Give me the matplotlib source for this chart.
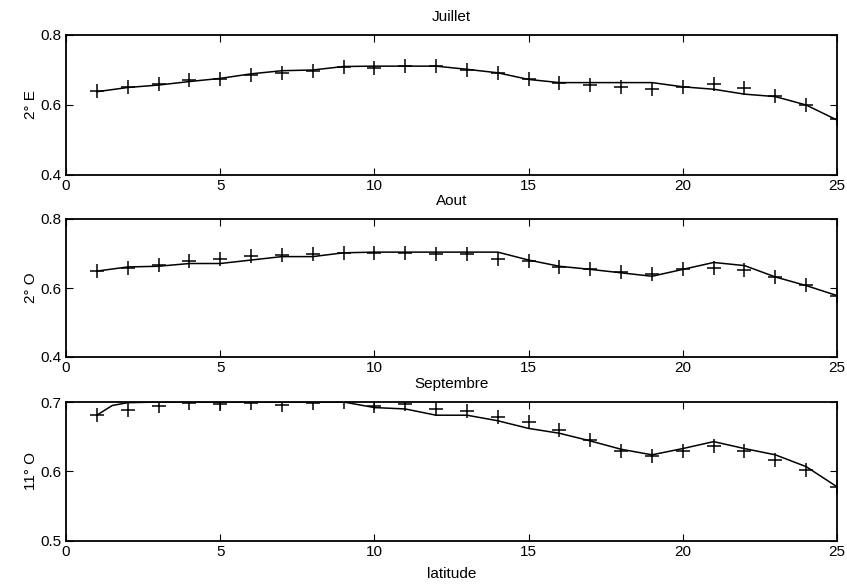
import matplotlib
matplotlib.use("Agg")
import matplotlib.pyplot as plt

plt.rcParams['font.family'] = ['Liberation Sans Narrow', 'Liberation Sans', 'DejaVu Sans']
plt.rcParams['font.size'] = 11

lat = list(range(1, 26))

# Juillet, 2° E
juil_obs = [0.641, 0.652, 0.660, 0.671, 0.674, 0.686, 0.690, 0.698, 0.708, 0.705,
            0.711, 0.710, 0.700, 0.690, 0.673, 0.662, 0.657, 0.652, 0.645, 0.650,
            0.660, 0.648, 0.627, 0.601, 0.559]
juil_fit = [0.638, 0.650, 0.657, 0.667, 0.676, 0.689, 0.698, 0.700, 0.710, 0.711,
            0.711, 0.711, 0.702, 0.692, 0.673, 0.664, 0.664, 0.664, 0.664, 0.652,
            0.645, 0.631, 0.624, 0.600, 0.557]

# Aout, 2° O
aout_obs = [0.649, 0.659, 0.666, 0.678, 0.685, 0.693, 0.695, 0.698, 0.702, 0.702,
            0.702, 0.700, 0.698, 0.685, 0.678, 0.661, 0.654, 0.646, 0.642, 0.654,
            0.659, 0.652, 0.632, 0.610, 0.578]
aout_fit = [0.649, 0.661, 0.663, 0.671, 0.671, 0.681, 0.691, 0.691, 0.702, 0.704,
            0.704, 0.704, 0.704, 0.704, 0.681, 0.663, 0.654, 0.644, 0.634, 0.654,
            0.674, 0.665, 0.632, 0.607, 0.578]

# Septembre, 11° O
sept_obs = [0.681, 0.688, 0.694, 0.699, 0.697, 0.698, 0.695, 0.699, 0.700, 0.694,
            0.697, 0.690, 0.687, 0.679, 0.671, 0.659, 0.646, 0.630, 0.622, 0.630,
            0.636, 0.630, 0.617, 0.602, 0.578]
sept_fit_x = [1, 1.5, 2, 3, 4, 5, 6, 7, 8, 9, 10, 11, 12, 13, 14, 15, 16, 17, 18,
              19, 20, 21, 22, 23, 24, 25]
sept_fit = [0.681, 0.695, 0.699, 0.700, 0.700, 0.700, 0.700, 0.700, 0.700, 0.700,
            0.692, 0.690, 0.681, 0.681, 0.673, 0.662, 0.655, 0.644, 0.632, 0.624,
            0.633, 0.643, 0.633, 0.624, 0.607, 0.578]

panels = [
    ("Juillet", "2° E", lat, juil_fit, juil_obs, (0.4, 0.8), [0.4, 0.6, 0.8]),
    ("Aout", "2° O", lat, aout_fit, aout_obs, (0.4, 0.8), [0.4, 0.6, 0.8]),
    ("Septembre", "11° O", sept_fit_x, sept_fit, sept_obs, (0.5, 0.7), [0.5, 0.6, 0.7]),
]

fig = plt.figure(figsize=(8.47, 5.84), dpi=100)
# axes boxes measured in pixels: (top, bottom)
boxes = [(35, 175), (219, 357), (402, 541)]

for (title, ylab, fx, fy, obs, ylim, yticks), (top, bot) in zip(panels, boxes):
    ax = fig.add_axes([66 / 847, 1 - bot / 584, 771 / 847, (bot - top) / 584])
    ax.plot(fx, fy, color="black", lw=1.1)
    ax.plot(lat, obs, "+", color="black", ms=10, mew=1.1)
    ax.set_xlim(0, 25)
    ax.set_ylim(*ylim)
    ax.set_xticks([0, 5, 10, 15, 20, 25])
    ax.set_yticks(yticks)
    ax.set_yticklabels([f"{t:.1f}" for t in yticks])
    ax.tick_params(direction="in", top=True, right=True, length=5, width=0.8, pad=3)
    ax.set_title(title, fontsize=11, pad=10)
    ax.set_ylabel(ylab, fontsize=11, labelpad=2)
    for s in ax.spines.values():
        s.set_linewidth(1.3)

ax.set_xlabel("latitude", fontsize=11, labelpad=6)

fig.savefig("out.png", dpi=100)
